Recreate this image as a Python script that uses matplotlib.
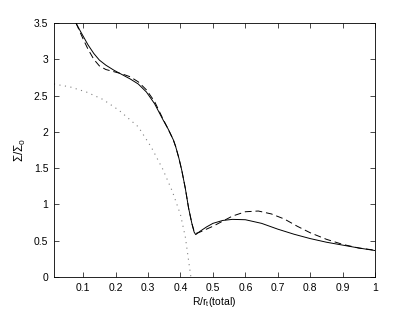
import matplotlib
matplotlib.use("Agg")
import matplotlib.pyplot as plt

plt.rcParams['font.family'] = ['Liberation Sans', 'DejaVu Sans']
plt.rcParams['mathtext.default'] = 'regular'

# solid curve
solid_x = [0.078, 0.09, 0.10, 0.115, 0.133, 0.15, 0.17, 0.195, 0.22, 0.245, 0.27,
           0.295, 0.32, 0.347, 0.362, 0.378, 0.385, 0.395, 0.404, 0.415, 0.425,
           0.435, 0.442, 0.447, 0.46, 0.48, 0.50, 0.53, 0.56, 0.60, 0.65, 0.70,
           0.75, 0.80, 0.85, 0.90, 0.95, 1.0]
solid_y = [3.50, 3.40, 3.32, 3.20, 3.08, 2.99, 2.92, 2.85, 2.79, 2.73, 2.66,
           2.55, 2.39, 2.16, 2.04, 1.89, 1.80, 1.64, 1.47, 1.22, 0.95,
           0.74, 0.62, 0.585, 0.63, 0.69, 0.74, 0.78, 0.795, 0.79, 0.74, 0.66,
           0.59, 0.53, 0.48, 0.44, 0.40, 0.365]

# dashed curve
dash_x = [0.078, 0.09, 0.10, 0.115, 0.133, 0.15, 0.17, 0.195, 0.22, 0.245, 0.27,
          0.295, 0.32, 0.347, 0.362, 0.378, 0.385, 0.395, 0.404, 0.415, 0.425,
          0.435, 0.442, 0.447, 0.46, 0.48, 0.50, 0.53, 0.56, 0.60, 0.64, 0.68,
          0.72, 0.76, 0.80, 0.85, 0.90, 0.95, 1.0]
dash_y = [3.50, 3.38, 3.28, 3.14, 3.00, 2.91, 2.86, 2.83, 2.80, 2.76, 2.69,
          2.58, 2.42, 2.17, 2.04, 1.89, 1.80, 1.64, 1.47, 1.22, 0.95,
          0.74, 0.63, 0.60, 0.62, 0.66, 0.70, 0.77, 0.84, 0.90, 0.91, 0.87,
          0.80, 0.70, 0.61, 0.52, 0.45, 0.40, 0.37]

# dotted curve
dot_x = [0.01, 0.06, 0.11, 0.16, 0.21, 0.27, 0.31, 0.345, 0.375, 0.40, 0.415, 0.432]
dot_y = [2.66, 2.62, 2.55, 2.45, 2.30, 2.07, 1.79, 1.49, 1.18, 0.86, 0.55, 0.0]

xticks = [0.1, 0.2, 0.3, 0.4, 0.5, 0.6, 0.7, 0.8, 0.9, 1.0]
xticklabels = ['0.1', '0.2', '0.3', '0.4', '0.5', '0.6', '0.7', '0.8', '0.9', '1']
yticks = [0, 0.5, 1, 1.5, 2, 2.5, 3, 3.5]
yticklabels = ['0', '0.5', '1', '1.5', '2', '2.5', '3', '3.5']

fig = plt.figure(figsize=(4.15, 3.12), dpi=100)
ax = fig.add_axes([0.13, 0.112, 0.774, 0.814])

ax.plot(solid_x, solid_y, color='black', lw=0.7, ls='-')
ax.plot(dash_x, dash_y, color='black', lw=0.7, ls=(0, (7, 4)))
ax.plot(dot_x, dot_y, color='0.5', lw=0.8, ls=(0, (1, 4)))

ax.set_xlim(0.01, 1.0)
ax.set_ylim(0, 3.5)
ax.set_xticks(xticks)
ax.set_xticklabels(xticklabels)
ax.set_yticks(yticks)
ax.set_yticklabels(yticklabels)
ax.tick_params(direction='in', length=3.5, width=0.5, labelsize=7.5,
               top=True, right=True, pad=4)
for s in ax.spines.values():
    s.set_linewidth(0.6)

ax.set_xlabel(r'$R/r_t$(total)', fontsize=7.5, labelpad=2)
ax.set_ylabel(r'$\Sigma/\Sigma_0$', fontsize=8.5, labelpad=4)

fig.savefig('out.png', dpi=100)
